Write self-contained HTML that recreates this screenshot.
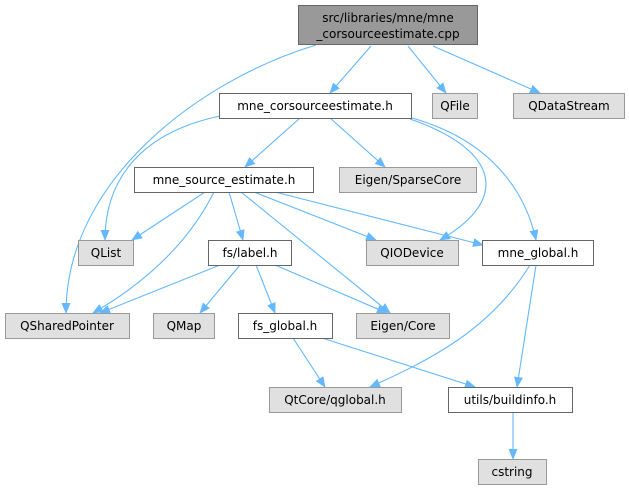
<!DOCTYPE html>
<html><head><meta charset="utf-8"><style>
html,body{margin:0;padding:0;background:#fff;}
svg{display:block;}
text{font-family:"DejaVu Sans","Liberation Sans",sans-serif;font-size:12px;fill:#000;}
</style></head><body>
<svg width="629" height="491" viewBox="0 0 629 491" xmlns="http://www.w3.org/2000/svg">
<defs>
<marker id="a" markerWidth="11" markerHeight="9" refX="10" refY="4.5" orient="auto" markerUnits="userSpaceOnUse">
<path d="M0,0 L11,4.5 L0,9 z" fill="#63b8ff"/>
</marker>
</defs>
<g fill="none" stroke="#63b8ff" stroke-width="1.1" marker-end="url(#a)">
<path d="M316,45 C200,80 66,180 66,313"/>
<path d="M371,46 L330,93"/>
<path d="M408,46 L446,93"/>
<path d="M433,46 L540,93"/>
<path d="M220,116 C130,135 105,190 105,240"/>
<path d="M300,118 L245,167"/>
<path d="M330,118 L385,167"/>
<path d="M410,119 C500,150 510,200 440,240"/>
<path d="M412,118 C490,140 525,190 536,240"/>
<path d="M205,192 L132,240"/>
<path d="M214,192 C190,240 150,280 93,313"/>
<path d="M229,192 L243,240"/>
<path d="M241,192 C300,240 350,280 390,313"/>
<path d="M254,192 L376,240"/>
<path d="M275,192 L483,245"/>
<path d="M220,265 L100,313"/>
<path d="M240,265 L200,313"/>
<path d="M256,265 L275,313"/>
<path d="M275,265 L387,313"/>
<path d="M530,265 C490,330 430,360 370,387"/>
<path d="M536,265 L517,387"/>
<path d="M293,338 L325,387"/>
<path d="M322,338 L475,387"/>
<path d="M513,412 L513,459"/>
</g>
<g stroke-width="1">
<rect x="298.5" y="5.5" width="179" height="39" fill="#999999" stroke="#666"/>
<rect x="219.5" y="93.5" width="192" height="25" fill="#fff" stroke="#666"/>
<rect x="432.5" y="93.5" width="45" height="25" fill="#e0e0e0" stroke="#999"/>
<rect x="513.5" y="93.5" width="111" height="25" fill="#e0e0e0" stroke="#999"/>
<rect x="134.5" y="167.5" width="179" height="25" fill="#fff" stroke="#666"/>
<rect x="339.5" y="167.5" width="137" height="25" fill="#e0e0e0" stroke="#999"/>
<rect x="78.5" y="240.5" width="55" height="25" fill="#e0e0e0" stroke="#999"/>
<rect x="208.5" y="240.5" width="83" height="25" fill="#fff" stroke="#666"/>
<rect x="366.5" y="240.5" width="92" height="25" fill="#e0e0e0" stroke="#999"/>
<rect x="482.5" y="240.5" width="111" height="25" fill="#fff" stroke="#666"/>
<rect x="5.5" y="313.5" width="124" height="25" fill="#e0e0e0" stroke="#999"/>
<rect x="153.5" y="313.5" width="61" height="25" fill="#e0e0e0" stroke="#999"/>
<rect x="238.5" y="313.5" width="94" height="25" fill="#fff" stroke="#666"/>
<rect x="356.5" y="313.5" width="93" height="25" fill="#e0e0e0" stroke="#999"/>
<rect x="269.5" y="387.5" width="132" height="25" fill="#e0e0e0" stroke="#999"/>
<rect x="448.5" y="387.5" width="124" height="25" fill="#fff" stroke="#666"/>
<rect x="478.5" y="459.5" width="68" height="25" fill="#e0e0e0" stroke="#999"/>
</g>
<g text-anchor="middle">
<text x="388" y="22">src/libraries/mne/mne</text>
<text x="388" y="38">_corsourceestimate.cpp</text>
<text x="315" y="110">mne_corsourceestimate.h</text>
<text x="455" y="110">QFile</text>
<text x="569" y="110">QDataStream</text>
<text x="224" y="184">mne_source_estimate.h</text>
<text x="408" y="184">Eigen/SparseCore</text>
<text x="106" y="257">QList</text>
<text x="250" y="257">fs/label.h</text>
<text x="412" y="257">QIODevice</text>
<text x="538" y="257">mne_global.h</text>
<text x="67" y="330">QSharedPointer</text>
<text x="184" y="330">QMap</text>
<text x="285" y="330">fs_global.h</text>
<text x="403" y="330">Eigen/Core</text>
<text x="335" y="404">QtCore/qglobal.h</text>
<text x="510" y="404">utils/buildinfo.h</text>
<text x="512" y="476">cstring</text>
</g>
</svg>
</body></html>
